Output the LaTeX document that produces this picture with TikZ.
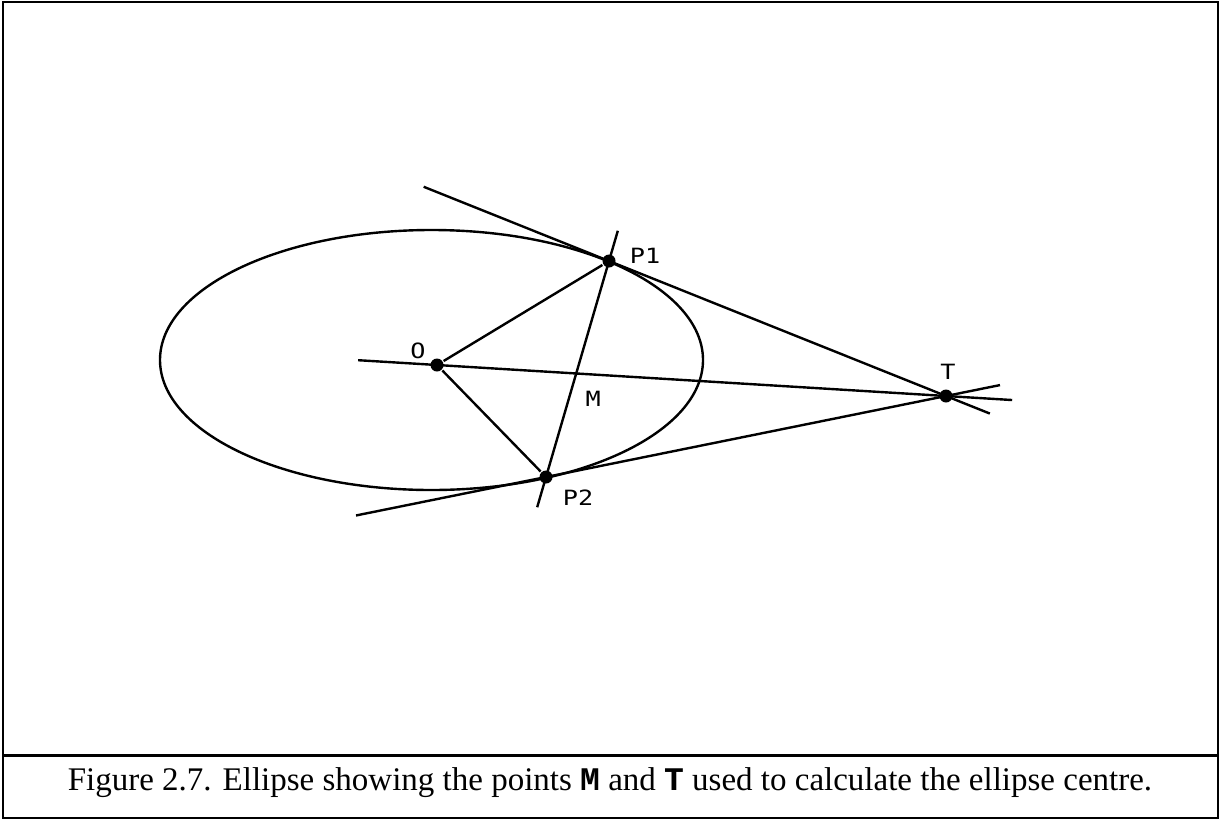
\documentclass[tikz,border=0pt]{standalone}
\usepackage{fontspec}
\setmainfont{Liberation Serif}
\setmonofont{Liberation Mono}
\newfontfamily\plotfont[FakeStretch=1.2]{DejaVu Sans Mono}
\usetikzlibrary{calc}

\begin{document}
\begin{tikzpicture}[x=1pt,y=-1pt,line width=2.4pt,
  dot/.style={circle,fill,inner sep=0pt,minimum size=13pt},
  lbl/.style={font=\plotfont\fontsize{21}{21}\selectfont,inner sep=0pt}]
		\useasboundingbox (0,0) rectangle (1222,822);
		\draw[line width=2.2pt] (3,2) rectangle (1218,818);
		\draw[line width=3pt] (3,755) -- (1218,755);
		\node[anchor=base,font=\fontsize{33}{40}\selectfont] (cap) at (610,790)
		  {Figure 2.7. Ellipse showing the points \texttt{\bfseries M} and \texttt{\bfseries T} used to calculate the ellipse centre.};

		\draw (431.5,360) ellipse [x radius=271.5, y radius=130];

		\node[dot] (O) at (437,365) {};
		\node[dot] (P1) at (609,261) {};
		\node[dot] (P2) at (546,477) {};
		\node[dot] (T) at (946,396) {};
		\coordinate (M) at (intersection of O--T and P1--P2);

		\coordinate (t1a) at ($(P1)!-0.55!(T)$);
		\coordinate (t1b) at ($(T)!-0.13!(P1)$);
		\coordinate (t2a) at ($(P2)!-0.475!(T)$);
		\coordinate (t2b) at ($(T)!-0.135!(P2)$);
		\coordinate (oa) at ($(O)!-0.155!(T)$);
		\coordinate (ob) at ($(T)!-0.13!(O)$);
		\coordinate (pa) at ($(P1)!-0.14!(P2)$);
		\coordinate (pb) at ($(P2)!-0.14!(P1)$);

		\draw (t1a) -- (t1b);
		\draw (t2a) -- (t2b);
		\draw (oa) -- (ob);
		\draw (pa) -- (pb);
		\draw (O) -- (P1);
		\draw (O) -- (P2);

		\node[lbl] (Olbl) at (418,351) {O};
		\node[lbl] (P1lbl) at (645,256) {P1};
		\node[lbl] (P2lbl) at (578,498) {P2};
		\node[lbl] (Mlbl) at ($(M)+(17,25)$) {M};
		\node[lbl] (Tlbl) at (948,372) {T};

		\end{tikzpicture}
\end{document}
